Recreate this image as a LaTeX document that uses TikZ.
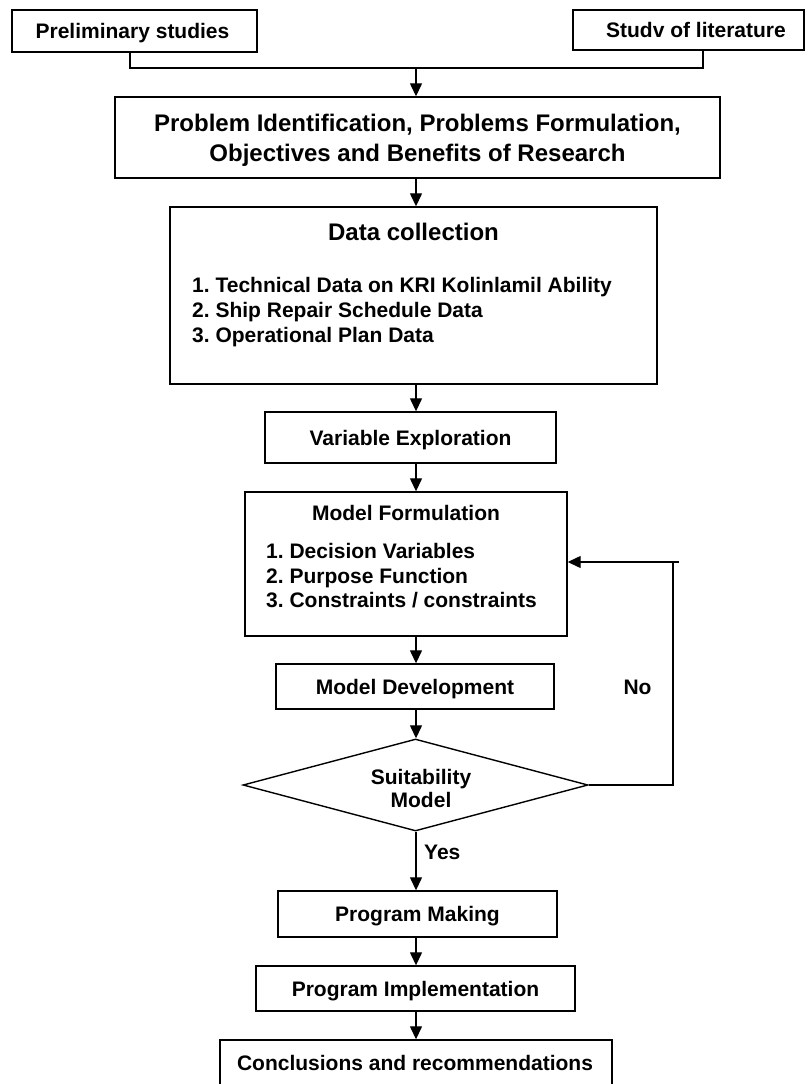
\documentclass[tikz,border=0pt]{standalone}
\usepackage{fontspec}
\setmainfont{Liberation Sans}
\usetikzlibrary{arrows.meta,shapes.geometric}
\frenchspacing
\begin{document}
\begin{tikzpicture}[x=1pt,y=-1pt,
  box/.style={draw,line width=1.4pt,inner sep=0pt,anchor=center},
  t21/.style={font=\fontsize{21}{25}\selectfont\bfseries,inner sep=0pt},
  t24/.style={font=\fontsize{24}{30}\selectfont\bfseries,inner sep=0pt},
  cap21/.style={t21,text height=15pt,text depth=0pt},
  arr/.style={line width=1.3pt,-{Triangle[length=13pt,width=12pt]}},
  ln/.style={line width=1.3pt}]
\useasboundingbox (0,0) rectangle (807,1084);
% boxes
\node[box,minimum width=245pt,minimum height=42pt] (pre) at (134.5,31) {};
\node[cap21] (pretxt) at (132.5,31) {Preliminary studies};
\node[box,minimum width=231pt,minimum height=40pt] (lit) at (688.5,30) {};
\node[cap21] (littxt) at (696,30) {Studv of literature};
\node[box,minimum width=605pt,minimum height=81pt] (prob) at (417.5,137.5) {};
\node[t24,anchor=base] (prob1) at (417.5,131) {Problem Identification, Problems Formulation,};
\node[t24,anchor=base] (prob2) at (417.5,161) {Objectives and Benefits of Research};
\node[box,minimum width=487pt,minimum height=177pt] (data) at (413.5,295.5) {};
\node[t24,anchor=base] (datat) at (413.5,240.5) {Data collection};
\node[t21,anchor=base west] (d1) at (192,292.5) {1. Technical Data on KRI Kolinlamil Ability};
\node[t21,anchor=base west] (d2) at (192,317.5) {2. Ship Repair Schedule Data};
\node[t21,anchor=base west] (d3) at (192,342.5) {3. Operational Plan Data};
\node[box,cap21,minimum width=291pt,minimum height=51pt] (var) at (410.5,437.5) {Variable Exploration};
\node[box,minimum width=322pt,minimum height=144pt] (mf) at (406,564) {};
\node[t21,anchor=base] (mft) at (406,520.5) {Model Formulation};
\node[t21,anchor=base west] (m1) at (266,558.5) {1. Decision Variables};
\node[t21,anchor=base west] (m2) at (266,583) {2. Purpose Function};
\node[t21,anchor=base west] (m3) at (266,607.5) {3. Constraints / constraints};
\node[box,cap21,minimum width=278pt,minimum height=45pt] (md) at (415,686.5) {Model Development};
\node[draw,line width=1.4pt,diamond,inner sep=0pt,minimum width=345pt,minimum height=92pt] (dia) at (415.5,785) {};
\node[t21,anchor=base] (s1) at (421,784.5) {Suitability};
\node[t21,anchor=base] (s2) at (421,807.5) {Model};
\node[box,cap21,minimum width=279pt,minimum height=46pt] (pm) at (417.5,914) {Program Making};
\node[box,cap21,minimum width=319pt,minimum height=45pt] (pi) at (415.5,988.5) {Program Implementation};
\node[box,minimum width=392pt,minimum height=60pt] (cr) at (416,1070) {};
\node[cap21] (crt) at (415,1063) {Conclusions and recommendations};
\node[t21,anchor=base] (no) at (637.5,694.5) {No};
\node[t21,anchor=base west] (yes) at (424,859.5) {Yes};
% connectors
\coordinate (ax) at (416,0);
\coordinate (pl) at (130,0);
\coordinate (lr) at (703,0);
\coordinate (j) at (416,68);
\draw[ln] (pre.south -| pl) |- (j) -| (lit.south -| lr);
\draw[arr] (j) -- (prob.north -| j);
\draw[arr] (prob.south -| ax) -- (data.north -| ax);
\draw[arr] (data.south -| ax) -- (var.north -| ax);
\draw[arr] (var.south -| ax) -- (mf.north -| ax);
\draw[arr] (mf.south -| ax) -- (md.north -| ax);
\draw[arr] (md.south -| ax) -- (dia.north -| ax);
\draw[arr] (dia.south -| ax) -- (pm.north -| ax);
\draw[arr] (pm.south -| ax) -- (pi.north -| ax);
\draw[arr] (pi.south -| ax) -- (cr.north -| ax);
\coordinate (fv) at (673,562);
\coordinate (fe) at (679,562);
\draw[ln] (dia.east) -| (fv);
\draw[arr] (fe) -- (fe -| mf.east);
\end{tikzpicture}
\end{document}
